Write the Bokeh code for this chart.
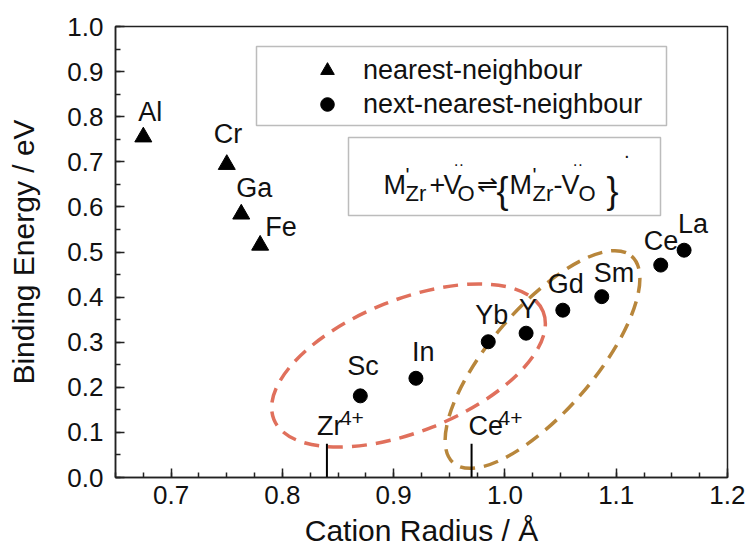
from bokeh.plotting import figure
from bokeh.models import (Range1d, FixedTicker, PrintfTickFormatter, Label,
                          BoxAnnotation, Legend, LegendItem, ColumnDataSource)
from bokeh.core.properties import value
from bokeh.embed import file_html
from bokeh.resources import INLINE

# ---------------- data ----------------
nn_elements = ["Al", "Cr", "Ga", "Fe"]
nn_radius = [0.675, 0.750, 0.763, 0.780]
nn_energy = [0.755, 0.694, 0.584, 0.515]

nnn_elements = ["Sc", "In", "Yb", "Y", "Gd", "Sm", "Ce", "La"]
nnn_radius = [0.870, 0.920, 0.985, 1.019, 1.052, 1.087, 1.140, 1.161]
nnn_energy = [0.181, 0.220, 0.301, 0.320, 0.371, 0.401, 0.471, 0.504]

host_ions = ["Zr", "Ce"]
host_radius = [0.84, 0.97]
host_mark_top = [0.075, 0.075]

x_ticks = [0.7, 0.8, 0.9, 1.0, 1.1, 1.2]
y_ticks = [0.0, 0.1, 0.2, 0.3, 0.4, 0.5, 0.6, 0.7, 0.8, 0.9, 1.0]

legend_labels = ["nearest-neighbour", "next-nearest-neighbour"]
x_title = "Cation Radius / Å"
y_title = "Binding Energy / eV"

# label placement (pixels, dx right, dy up)
nn_dx = [-5, -13, -5, 5]
nn_dy = [25, 31, 26, 18]
nnn_dx = [-13, -4, -13, -7, -15, -8, -17, -6]
nnn_dy = [30, 26, 27, 24, 26, 24, 24, 26]

FONT = "Liberation Sans"
X0, X1, Y0, Y1 = 0.65, 1.2, 0.0, 1.0
FL, FR, FT, FB = 115, 727, 26, 477   # frame in page pixels
W, H = 745, 552


def px_x(px):
    return X0 + (px - FL) * (X1 - X0) / (FR - FL)


def px_y(py):
    return Y0 + (FB - py) * (Y1 - Y0) / (FB - FT)


x_minor = [round(0.65 + 0.025 * i, 3) for i in range(23)]
y_minor = [round(0.05 * i, 2) for i in range(21)]

p = figure(width=W, height=H, x_range=Range1d(X0, X1), y_range=Range1d(Y0, Y1),
           output_backend="svg", toolbar_location=None,
           min_border_left=FL, min_border_right=W - FR,
           min_border_top=FT, min_border_bottom=H - FB)
p.background_fill_color = "white"
p.border_fill_color = "white"
p.outline_line_color = "#222222"
p.outline_line_width = 1.5
p.xgrid.visible = False
p.ygrid.visible = False

p.xaxis.ticker = FixedTicker(ticks=x_ticks, minor_ticks=x_minor)
p.yaxis.ticker = FixedTicker(ticks=y_ticks, minor_ticks=y_minor)
p.xaxis.formatter = PrintfTickFormatter(format="%.1f")
p.yaxis.formatter = PrintfTickFormatter(format="%.1f")
for ax in (p.xaxis, p.yaxis):
    ax.axis_line_color = "#222222"
    ax.axis_line_width = 1.5
    ax.major_tick_line_color = "#222222"
    ax.minor_tick_line_color = "#222222"
    ax.major_tick_line_width = 1.5
    ax.minor_tick_line_width = 1.5
    ax.major_tick_in = 9
    ax.major_tick_out = 0
    ax.minor_tick_in = 5
    ax.minor_tick_out = 0
    ax.major_label_text_font = FONT
    ax.major_label_text_font_size = "26px"
    ax.major_label_text_color = "#111111"
    ax.axis_label_text_font = FONT
    ax.axis_label_text_font_size = "30px"
    ax.axis_label_text_font_style = "normal"
    ax.axis_label_text_color = "#111111"
p.xaxis.axis_label = x_title
p.yaxis.axis_label = y_title
p.xaxis.major_label_standoff = 8
p.yaxis.major_label_standoff = 12
p.xaxis.axis_label_standoff = 7
p.yaxis.axis_label_standoff = 24

# ellipses (highlight regions, pixel sized)
p.ellipse(x=[px_x(408)], y=[px_y(365)], width=[290], height=[132], angle=[0.380],
          width_units="screen", height_units="screen",
          fill_alpha=0, line_color="#E0705C", line_width=3.5, line_dash="15 9")
p.ellipse(x=[px_x(542)], y=[px_y(359)], width=[273], height=[104], angle=[0.860],
          width_units="screen", height_units="screen",
          fill_alpha=0, line_color="#B8863B", line_width=3.5, line_dash="15 9")

# host cation markers
p.segment(x0=host_radius, y0=[0, 0], x1=host_radius, y1=host_mark_top,
          line_color="black", line_width=2)
hsrc = ColumnDataSource(dict(x=host_radius, y=host_mark_top, t=host_ions,
                             dx=[-10, -3], dxs=[13, 27]))
p.text(x="x", y="y", text="t", source=hsrc, x_offset="dx", y_offset=-18,
       text_font=value(FONT), text_font_size="27px", text_baseline="alphabetic",
       text_color="#111111")
p.text(x="x", y="y", text=value("4+"), source=hsrc, x_offset="dxs", y_offset=-26,
       text_font=value(FONT), text_font_size="21px", text_baseline="alphabetic",
       text_color="#111111")

# data
nn_src = ColumnDataSource(dict(x=nn_radius, y=nn_energy, t=nn_elements,
                               dx=nn_dx, dy=[-d for d in nn_dy]))
nnn_src = ColumnDataSource(dict(x=nnn_radius, y=nnn_energy, t=nnn_elements,
                                dx=nnn_dx, dy=[-d for d in nnn_dy]))
r_tri = p.scatter(x="x", y="y", source=nn_src, marker="triangle", size=17,
                  color="black")
r_cir = p.scatter(x="x", y="y", source=nnn_src, marker="circle", size=14,
                  color="black")
for src in (nn_src, nnn_src):
    p.text(x="x", y="y", text="t", source=src, x_offset="dx", y_offset="dy",
           text_font=value(FONT), text_font_size="27px", text_baseline="alphabetic",
           text_color="#111111")

# legend box + legend
p.add_layout(BoxAnnotation(left=px_x(256), right=px_x(666), top=px_y(46), bottom=px_y(125),
                           fill_alpha=0, line_color="#222222", line_width=1.5))
legend = Legend(items=[LegendItem(label=legend_labels[0], renderers=[r_tri]),
                       LegendItem(label=legend_labels[1], renderers=[r_cir])],
                location=(309 - FL, FB - 121), padding=0, margin=0, spacing=0,
                glyph_width=36, glyph_height=34, label_standoff=18,
                border_line_alpha=0, background_fill_alpha=0,
                label_text_font=FONT, label_text_font_size="27px",
                label_text_color="#111111")
p.add_layout(legend, "center")

# equation box
p.add_layout(BoxAnnotation(left=px_x(348), right=px_x(660), top=px_y(137), bottom=px_y(215),
                           fill_alpha=0, line_color="#222222", line_width=1.5))
eq_pieces = [
    ("M", 383, 184, 27), ("'", 405, 174, 21), ("Zr", 405, 193, 22),
    ("+", 429, 184, 27), ("V", 443, 184, 27), ("··", 453, 164, 16),
    ("O", 457, 193, 22), ("⇌", 476, 183, 25), ("{", 496, 190, 36),
    ("M", 509, 184, 27), ("'", 532, 174, 21), ("Zr", 532, 193, 22),
    ("-", 553, 184, 27), ("V", 561, 184, 27), ("··", 572, 164, 16),
    ("O", 578, 193, 22), ("}", 606, 190, 36), ("·", 623, 154, 20),
]
for t, lx, by, fs in eq_pieces:
    p.add_layout(Label(x=px_x(lx), y=px_y(by), text=t, text_font=FONT,
                       text_font_size=f"{fs}px", text_baseline="alphabetic",
                       text_align="left", text_color="#111111"))

open("out.html", "w").write(file_html(p, INLINE))
